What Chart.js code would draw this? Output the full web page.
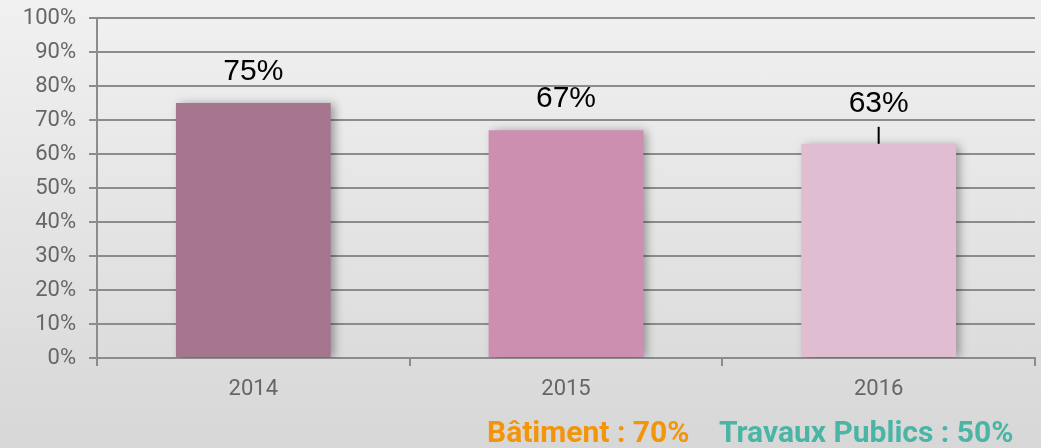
<!DOCTYPE html>
<html>
<head>
<meta charset="utf-8">
<script src="https://cdn.jsdelivr.net/npm/chart.js@4"></script>
<style>
  html, body { margin: 0; padding: 0; }
  body {
    width: 1041px; height: 448px; overflow: hidden; position: relative;
    background: linear-gradient(#f1f1f1, #d7d7d7);
    font-family: Roboto, sans-serif;
  }
  #wrap { position: absolute; left: 0; top: 0; width: 1041px; height: 448px; }
  #legende {
    position: absolute; left: 0; right: 0; top: 415px;
    font-family: Roboto, sans-serif; font-weight: bold; font-size: 30px; line-height: 34px;
  }
  #legende span { position: absolute; white-space: nowrap; }
  #bat { left: 487px; color: #f39508; }
  #tp { left: 719px; color: #4bb5a5; }
</style>
</head>
<body>
<div id="wrap"><canvas id="graphique"></canvas></div>
<div id="legende">
  <span id="bat">Bâtiment : 70%</span>
  <span id="tp">Travaux Publics : 50%</span>
</div>
<script>
const annees = ['2014', '2015', '2016'];
const taux = [75, 67, 63];
const couleurs = ['#a6768f', '#cc8fb0', '#e0bdd0'];
const etiquettesY = ['0%', '10%', '20%', '30%', '40%', '50%', '60%', '70%', '80%', '90%', '100%'];

// ombre sous les barres
const ombre = {
    id: 'ombre',
    beforeDatasetsDraw(chart) {
        const ctx = chart.ctx;
        ctx.save();
        ctx.shadowColor = 'rgba(0,0,0,0.35)';
        ctx.shadowBlur = 9;
        ctx.shadowOffsetX = 4;
        ctx.shadowOffsetY = 1;
    },
    afterDatasetsDraw(chart) {
        chart.ctx.restore();
    }
};

// valeurs au dessus des barres
const valeurs = {
    id: 'valeurs',
    afterDraw(chart) {
        const ctx = chart.ctx;
        const meta = chart.getDatasetMeta(0);
        ctx.save();
        ctx.font = '30px "Liberation Sans", Arial, sans-serif';
        ctx.fillStyle = '#000';
        ctx.textAlign = 'center';
        ctx.textBaseline = 'middle';
        meta.data.forEach((bar, i) => {
            let y = bar.y - 31;
            if (i === 2) {
                y = bar.y - 40;
                ctx.strokeStyle = '#000';
                ctx.lineWidth = 2;
                ctx.beginPath();
                ctx.moveTo(bar.x, bar.y - 17);
                ctx.lineTo(bar.x, bar.y);
                ctx.stroke();
            }
            ctx.fillText(taux[i] + '%', bar.x, y);
        });
        ctx.restore();
    }
};

const grafico = document.getElementById('graphique');

new Chart(grafico, {
    type: 'bar',
    data: {
        labels: annees,
        datasets: [{
            data: taux,
            backgroundColor: couleurs,
            borderWidth: 0,
            categoryPercentage: 1,
            barPercentage: 0.495
        }]
    },
    options: {
        responsive: true,
        maintainAspectRatio: false,
        animation: false,
        layout: { padding: { top: 18, right: 6, bottom: 40, left: 0 } },
        plugins: {
            legend: { display: false },
            tooltip: { enabled: false }
        },
        scales: {
            y: {
                min: 0,
                max: 100,
                afterFit(scale) {
                    scale.width = 97;
                    scale.paddingTop = 0;
                    scale.paddingBottom = 0;
                },
                afterBuildTicks(scale) {
                    scale.ticks = etiquettesY.map((t, i) => ({ value: i * 10 }));
                },
                ticks: {
                    stepSize: 10,
                    padding: 13,
                    color: '#666',
                    font: { family: 'Roboto', size: 22 },
                    callback: (v, i) => etiquettesY[i]
                },
                grid: {
                    color: '#8c8c8c',
                    lineWidth: 2,
                    tickLength: 8
                },
                border: { color: '#8c8c8c', width: 2 }
            },
            x: {
                afterFit(scale) {
                    scale.height = 50;
                    scale.paddingLeft = 0;
                    scale.paddingRight = 0;
                },
                ticks: {
                    padding: 10,
                    color: '#666',
                    font: { family: 'Roboto', size: 22 }
                },
                grid: {
                    offset: true,
                    drawOnChartArea: false,
                    color: '#8c8c8c',
                    lineWidth: 2,
                    tickLength: 8
                },
                border: { color: '#8c8c8c', width: 2 }
            }
        }
    },
    plugins: [ombre, valeurs]
});
</script>
</body>
</html>
